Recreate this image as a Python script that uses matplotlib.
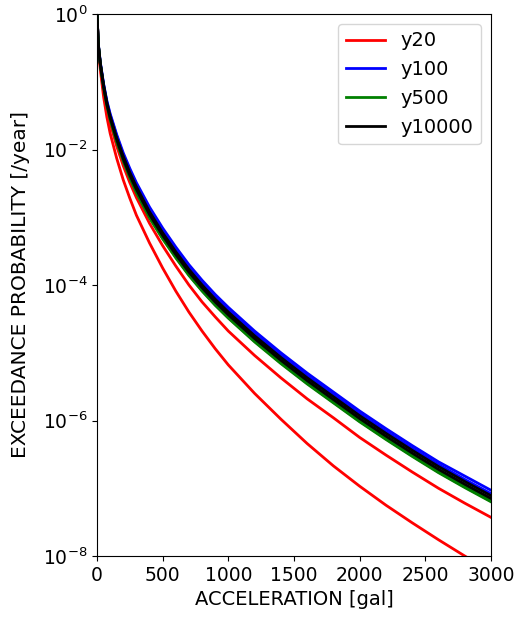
import numpy as np
import matplotlib
matplotlib.use('Agg')
import matplotlib.pyplot as plt

# acceleration grid [gal]
accel = [0, 10, 25, 50, 75, 100, 150, 200, 250, 300, 400, 500, 600, 700,
         800, 900, 1000, 1200, 1400, 1600, 1800, 2000, 2200, 2400, 2600,
         2800, 3000]

# log10 of exceedance probability [/year]
y20_curves = [
    [0, -0.46, -0.74, -1.08, -1.35, -1.55, -1.88, -2.16, -2.41, -2.63, -3.00,
     -3.31, -3.59, -3.85, -4.08, -4.29, -4.48, -4.83, -5.15, -5.45, -5.73,
     -6.01, -6.27, -6.52, -6.76, -6.98, -7.19],
    [0, -0.47, -0.77, -1.12, -1.40, -1.61, -1.95, -2.24, -2.49, -2.71, -3.09,
     -3.42, -3.72, -4.00, -4.25, -4.47, -4.68, -5.04, -5.37, -5.68, -5.96,
     -6.25, -6.51, -6.76, -7.00, -7.22, -7.43],
    [0, -0.50, -0.82, -1.22, -1.52, -1.76, -2.13, -2.45, -2.72, -2.97, -3.38,
     -3.75, -4.09, -4.40, -4.68, -4.94, -5.18, -5.60, -5.98, -6.34, -6.67,
     -6.97, -7.25, -7.51, -7.76, -8.00, -8.23],
]
y100_curves = [
    [0, -0.44, -0.71, -1.03, -1.28, -1.47, -1.78, -2.05, -2.28, -2.49, -2.85,
     -3.16, -3.44, -3.70, -3.93, -4.14, -4.33, -4.68, -5.00, -5.30, -5.58,
     -5.86, -6.12, -6.37, -6.61, -6.82, -7.03],
    [0, -0.45, -0.72, -1.04, -1.30, -1.49, -1.80, -2.08, -2.32, -2.52, -2.89,
     -3.20, -3.48, -3.74, -3.97, -4.18, -4.37, -4.72, -5.04, -5.34, -5.62,
     -5.90, -6.16, -6.41, -6.65, -6.87, -7.08],
]
y500_curves = [
    [0, -0.45, -0.74, -1.07, -1.34, -1.54, -1.87, -2.15, -2.39, -2.61, -2.98,
     -3.29, -3.57, -3.83, -4.06, -4.27, -4.46, -4.81, -5.13, -5.43, -5.71,
     -5.99, -6.25, -6.50, -6.74, -6.96, -7.17],
    [0, -0.46, -0.74, -1.08, -1.35, -1.56, -1.89, -2.17, -2.42, -2.64, -3.01,
     -3.32, -3.60, -3.86, -4.09, -4.30, -4.49, -4.84, -5.16, -5.46, -5.74,
     -6.02, -6.28, -6.53, -6.77, -6.99, -7.20],
]
y10000_curves = [
    [0, -0.45, -0.73, -1.05, -1.31, -1.51, -1.83, -2.10, -2.34, -2.55, -2.92,
     -3.23, -3.51, -3.77, -4.00, -4.21, -4.40, -4.75, -5.07, -5.37, -5.65,
     -5.93, -6.19, -6.44, -6.68, -6.90, -7.11],
    [0, -0.45, -0.73, -1.07, -1.33, -1.53, -1.85, -2.14, -2.38, -2.59, -2.96,
     -3.27, -3.55, -3.81, -4.04, -4.25, -4.44, -4.79, -5.11, -5.41, -5.69,
     -5.97, -6.23, -6.48, -6.72, -6.94, -7.15],
]

groups = [('y20', 'red', y20_curves),
          ('y100', 'blue', y100_curves),
          ('y500', 'green', y500_curves),
          ('y10000', 'black', y10000_curves)]

fig = plt.figure(figsize=(5.19, 6.22), dpi=100)
ax = fig.add_axes([97/519, 1 - 556/622, (491-97)/519, (556-14)/622])

for name, col, curves in groups:
    for i, c in enumerate(curves):
        ax.plot(accel, 10.0 ** np.array(c), color=col, lw=2,
                label=name if i == 0 else None)

ax.set_yscale('log')
ax.set_xlim(0, 3000)
ax.set_ylim(1e-8, 1)
ax.set_yticks([1e0, 1e-2, 1e-4, 1e-6, 1e-8])
ax.yaxis.set_minor_locator(matplotlib.ticker.NullLocator())
ax.set_xticks(range(0, 3001, 500))
ax.tick_params(labelsize=13.5)
ax.set_xlabel('ACCELERATION [gal]', fontsize=14)
ax.set_ylabel('EXCEEDANCE PROBABILITY [/year]', fontsize=14.5, labelpad=9)
ax.legend(loc='upper right', fontsize=14)

fig.savefig('out.png')
